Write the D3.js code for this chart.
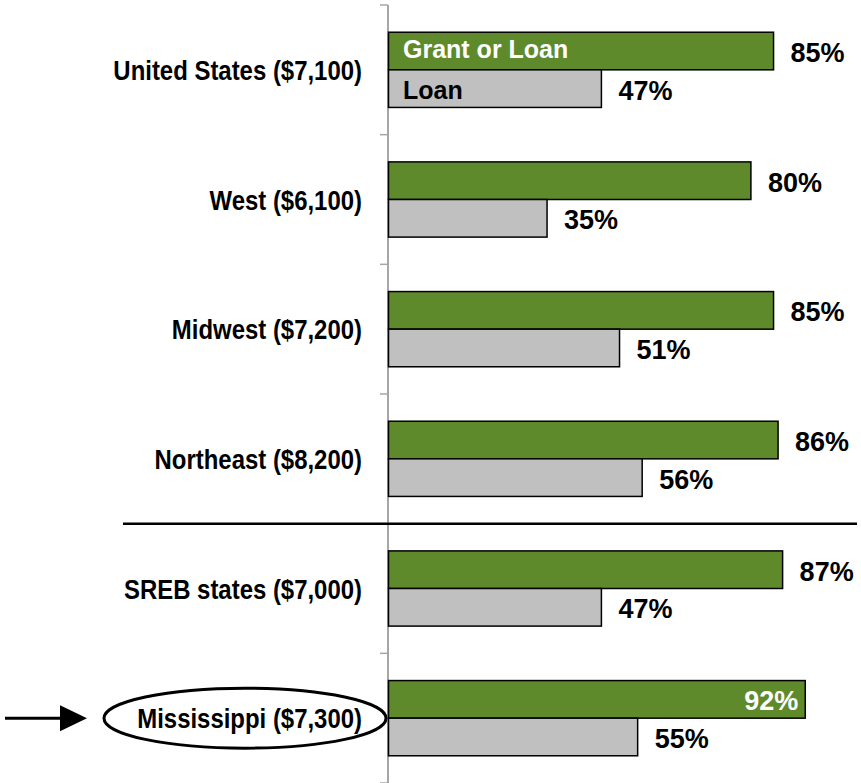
<!DOCTYPE html>
<html>
  <head>
    <meta charset="utf-8">
    <title>Grant or Loan by region</title>
    <script src="https://d3js.org/d3.v7.min.js"></script>
    <style>
      body { margin: 0; background: #fff; }
      text { font-family: "Liberation Sans", Arial, sans-serif; font-weight: bold; }
    </style>
  </head>
  <body>
    <div id="chart"></div>

    <script>
      // Data
      const categories = [
        'United States ($7,100)',
        'West ($6,100)',
        'Midwest ($7,200)',
        'Northeast ($8,200)',
        'SREB states ($7,000)',
        'Mississippi ($7,300)'
      ];
      const seriesNames = ['Grant or Loan', 'Loan'];
      const grantOrLoan = [85, 80, 85, 86, 87, 92];
      const loan = [47, 35, 51, 56, 47, 55];

      const width = 861, height = 783;
      const green = '#5e8a2b', grey = '#c0c0c0';

      const svg = d3.select('#chart')
        .append('svg')
        .attr('width', width)
        .attr('height', height);

      const y = d3.scaleBand()
        .domain(categories)
        .range([5, 783])
        .paddingInner(0.42)
        .paddingOuter(0.21);

      const x = d3.scaleLinear()
        .domain([0, 100])
        .range([388.5, 841.5]);

      const sub = d3.scaleBand()
        .domain(seriesNames)
        .range([0, y.bandwidth()]);

      const rows = categories.map((c, i) => ({ cat: c, vals: [grantOrLoan[i], loan[i]] }));

      // vertical axis with ticks at band edges
      const edges = categories.map(c => y(c) - y.step() * y.paddingInner() / 2);
      edges.push(783);
      edges[0] = 5;
      svg.append('line')
        .attr('x1', 388).attr('x2', 388)
        .attr('y1', 5).attr('y2', height)
        .attr('stroke', '#a6a6a6').attr('stroke-width', 2);
      svg.selectAll('.tick')
        .data(edges)
        .enter()
        .append('line')
        .attr('x1', 380).attr('x2', 388)
        .attr('y1', d => d).attr('y2', d => d)
        .attr('stroke', '#a6a6a6').attr('stroke-width', 1.5);

      // bars
      const g = svg.selectAll('.row')
        .data(rows)
        .enter()
        .append('g')
        .attr('transform', d => `translate(0,${y(d.cat)})`);

      g.selectAll('rect')
        .data(d => d.vals.map((v, j) => ({ v, s: seriesNames[j], last: d.cat === categories[5] })))
        .enter()
        .append('rect')
        .attr('x', x(0))
        .attr('y', d => sub(d.s))
        .attr('width', d => x(d.v) - x(0))
        .attr('height', sub.bandwidth())
        .attr('fill', d => d.s === seriesNames[0] ? green : grey)
        .attr('stroke', '#000')
        .attr('stroke-width', 1.5);

      // value labels
      g.selectAll('.val')
        .data(d => d.vals.map((v, j) => ({ v, s: seriesNames[j], last: d.cat === categories[5] })))
        .enter()
        .append('text')
        .attr('x', d => (d.last && d.s === seriesNames[0]) ? x(d.v) - 7 : x(d.v) + 17)
        .attr('y', d => sub(d.s) + sub.bandwidth() / 2 + 11)
        .attr('text-anchor', d => (d.last && d.s === seriesNames[0]) ? 'end' : 'start')
        .attr('fill', d => (d.last && d.s === seriesNames[0]) ? '#fff' : '#000')
        .attr('font-size', 27)
        .text(d => d.v + '%');

      // series names inside the first pair of bars
      svg.selectAll('.legend')
        .data(seriesNames)
        .enter()
        .append('text')
        .attr('x', 403)
        .attr('y', (d, j) => y(categories[0]) + sub(d) + sub.bandwidth() / 2 + (j === 0 ? 7 : 10))
        .attr('fill', (d, j) => j === 0 ? '#fff' : '#000')
        .attr('font-size', 25)
        .text(d => d);

      // category labels (narrow bold)
      svg.selectAll('.cat')
        .data(categories)
        .enter()
        .append('text')
        .attr('transform', d => `translate(362,${y(d) + y.bandwidth() / 2 + 10}) scale(0.855,1)`)
        .attr('text-anchor', 'end')
        .attr('font-size', 28)
        .text(d => d);

      // separator between regions and SREB
      svg.append('line')
        .attr('x1', 123).attr('x2', 857)
        .attr('y1', edges[4]).attr('y2', edges[4])
        .attr('stroke', '#000').attr('stroke-width', 2.5);

      // highlight Mississippi
      const cy = y(categories[5]) + y.bandwidth() / 2;
      svg.append('ellipse')
        .attr('cx', 245).attr('cy', cy)
        .attr('rx', 141).attr('ry', 30)
        .attr('fill', 'none')
        .attr('stroke', '#000').attr('stroke-width', 3);
      svg.append('line')
        .attr('x1', 5).attr('x2', 64)
        .attr('y1', cy).attr('y2', cy)
        .attr('stroke', '#000').attr('stroke-width', 3);
      svg.append('path')
        .attr('d', `M60,${cy - 13}L87,${cy}L60,${cy + 13}Z`)
        .attr('fill', '#000');
    </script>
  </body>
</html>
